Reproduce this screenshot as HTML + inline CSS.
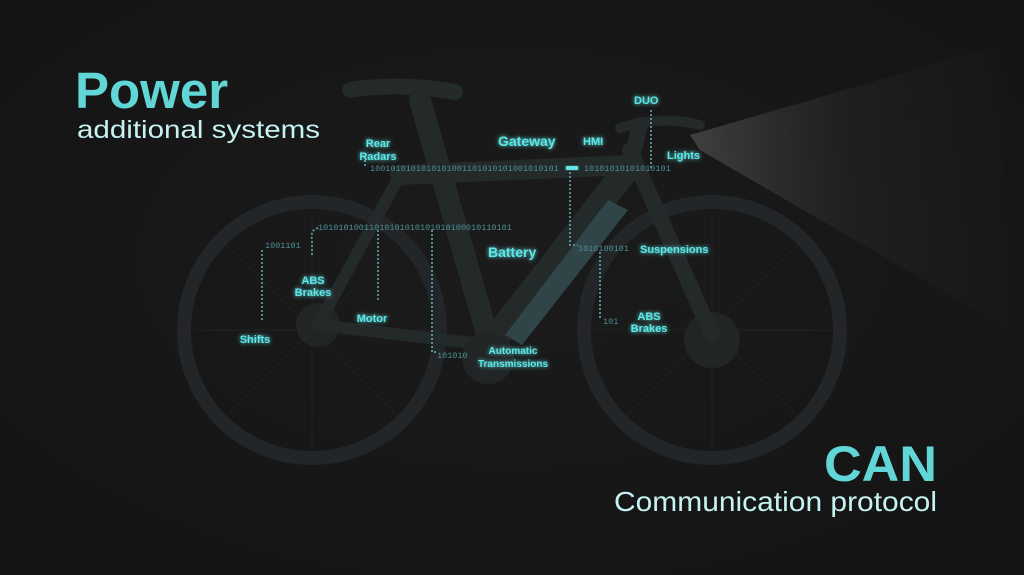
<!DOCTYPE html>
<html><head><meta charset="utf-8"><style>
html,body{margin:0;padding:0;background:#171717;}
svg{display:block}
text{font-family:"Liberation Sans",sans-serif;font-weight:bold}
.l{fill:#5fe6e6}
.b{font-family:"Liberation Mono",monospace;font-weight:normal;fill:#4f8f95;font-size:8.5px}
</style></head><body>
<svg width="1024" height="575" viewBox="0 0 1024 575" xmlns="http://www.w3.org/2000/svg">
<defs>
<radialGradient id="bg" cx="0.5" cy="0.45" r="0.7"><stop offset="0" stop-color="#1b1b1b"/><stop offset="1" stop-color="#141414"/></radialGradient>
<linearGradient id="beam" x1="0" y1="0" x2="1" y2="0"><stop offset="0" stop-color="#8a8a8a" stop-opacity="0.35"/><stop offset="0.5" stop-color="#444" stop-opacity="0.18"/><stop offset="1" stop-color="#333" stop-opacity="0.04"/></linearGradient>
<filter id="gl"><feGaussianBlur stdDeviation="2" result="b"/><feMerge><feMergeNode in="b"/><feMergeNode in="SourceGraphic"/></feMerge></filter>
</defs>
<rect width="1024" height="575" fill="url(#bg)"/>
<polygon points="690,135 1000,45 1010,330 700,150" fill="url(#beam)"/>
<g fill="none" stroke="#222628">
<circle cx="312" cy="330" r="128" stroke-width="14"/>
<circle cx="712" cy="330" r="128" stroke-width="14"/>
</g>
<g stroke="#1f2223" stroke-width="1">
<line x1="312" y1="210" x2="312" y2="450"/><line x1="192" y1="330" x2="432" y2="330"/>
<line x1="227" y1="245" x2="397" y2="415"/><line x1="397" y1="245" x2="227" y2="415"/>
<line x1="712" y1="210" x2="712" y2="450"/><line x1="592" y1="330" x2="832" y2="330"/>
<line x1="627" y1="245" x2="797" y2="415"/><line x1="797" y1="245" x2="627" y2="415"/>
</g>
<circle cx="712" cy="340" r="28" fill="#212526"/>
<circle cx="318" cy="325" r="22" fill="#212526"/>
<g stroke="#24292a" stroke-linecap="round" fill="none">
<line x1="420" y1="100" x2="490" y2="345" stroke-width="22"/>
<line x1="400" y1="175" x2="630" y2="165" stroke-width="20"/>
<line x1="630" y1="165" x2="490" y2="345" stroke-width="26"/>
<line x1="400" y1="175" x2="318" y2="325" stroke-width="12"/>
<line x1="490" y1="345" x2="318" y2="325" stroke-width="12"/>
<line x1="630" y1="150" x2="712" y2="335" stroke-width="16"/>
<line x1="630" y1="165" x2="640" y2="125" stroke-width="16"/>
<path d="M620 128 Q660 115 700 125" stroke-width="10"/>
<path d="M350 90 Q400 82 455 92" stroke-width="16"/>
</g>
<polygon points="608,200 628,210 522,345 505,335" fill="#2f4547"/>
<circle cx="488" cy="358" r="26" fill="#212526"/>
<text class="b" x="370" y="171">1001010101010101001101010101001010101</text>
<text class="b" x="584" y="171">10101010101010101</text>
<rect x="566" y="166" width="12" height="4" fill="#5fe6e6" filter="url(#gl)"/>
<text class="b" x="318" y="230">10101010011010101010101010100010110101</text>
<text class="b" x="578" y="251">1010100101</text>
<text class="b" x="265" y="248">1001101</text>
<text class="b" x="603" y="324">101</text>
<text class="b" x="437" y="358">101010</text>
<g stroke="#4f8f95" stroke-width="2" stroke-dasharray="2 2" fill="none">
<path d="M365 160 V168"/>
<path d="M570 172 V245 H578"/>
<path d="M651 110 V168"/>
<path d="M600 252 V320"/>
<path d="M432 230 V352 H437"/>
<path d="M378 230 V300"/>
<path d="M318 228 Q310 230 312 240 V255"/>
<path d="M262 250 V320"/>
</g>
<g filter="url(#gl)" class="l">
<text class="l" x="634" y="104" font-size="11">DUO</text>
<text class="l" x="498" y="146" font-size="14">Gateway</text>
<text class="l" x="583" y="145" font-size="11">HMI</text>
<text class="l" x="667" y="159" font-size="11">Lights</text>
<text class="l" x="378" y="147" font-size="11" text-anchor="middle">Rear</text>
<text class="l" x="378" y="160" font-size="11" text-anchor="middle">Radars</text>
<text class="l" x="488" y="257" font-size="14">Battery</text>
<text class="l" x="640" y="253" font-size="11">Suspensions</text>
<text class="l" x="313" y="284" font-size="11" text-anchor="middle">ABS</text>
<text class="l" x="313" y="296" font-size="11" text-anchor="middle">Brakes</text>
<text class="l" x="372" y="322" font-size="11" text-anchor="middle">Motor</text>
<text class="l" x="255" y="343" font-size="11" text-anchor="middle">Shifts</text>
<text class="l" x="649" y="320" font-size="11" text-anchor="middle">ABS</text>
<text class="l" x="649" y="332" font-size="11" text-anchor="middle">Brakes</text>
<text class="l" x="513" y="354" font-size="10" text-anchor="middle">Automatic</text>
<text class="l" x="513" y="367" font-size="10" text-anchor="middle">Transmissions</text>
</g>
<text x="75" y="108" font-size="51" style="fill:#62d6d6">Power</text>
<text x="77" y="138" font-size="25" textLength="243" lengthAdjust="spacingAndGlyphs" style="font-weight:normal;fill:#c6f2f2">additional systems</text>
<text x="937" y="481" font-size="50" text-anchor="end" textLength="113" lengthAdjust="spacingAndGlyphs" style="fill:#62d6d6">CAN</text>
<text x="937" y="511" font-size="28" text-anchor="end" textLength="323" lengthAdjust="spacingAndGlyphs" style="font-weight:normal;fill:#c6f2f2">Communication protocol</text>
</svg>
</body></html>
